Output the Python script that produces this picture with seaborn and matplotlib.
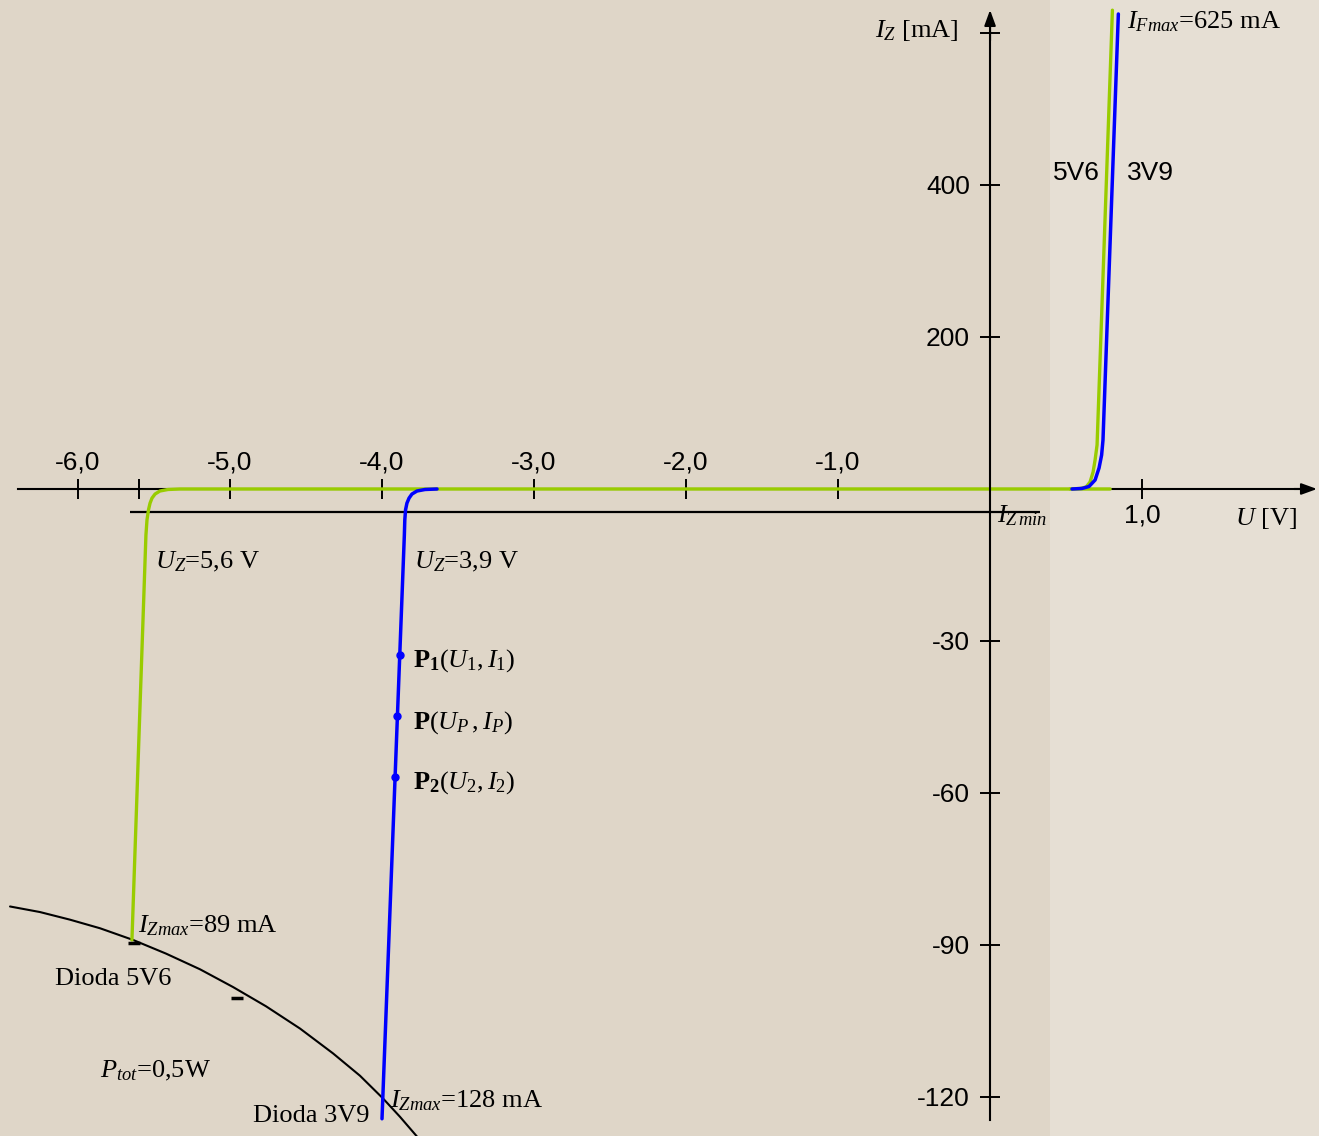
import numpy as np
import matplotlib
matplotlib.use("Agg")
import matplotlib.pyplot as plt
import seaborn as sns
from matplotlib.ticker import FixedLocator, FixedFormatter

# ---- characteristic of the 5V6 Zener diode (green) ----
Z56_REV_U = [-5.645, -5.553, -5.546, -5.536, -5.526, -5.513, -5.493, -5.461, -5.408, -5.329, 0.79]
Z56_REV_I = [-89.0, -9.1, -6.1, -4.1, -2.8, -1.8, -1.0, -0.4, -0.1, 0.0, 0.0]
Z56_FWD_U = [0.526, 0.592, 0.632, 0.658, 0.678, 0.691, 0.704, 0.805]
Z56_FWD_I = [0.0, 0.7, 2.6, 9.2, 22.4, 38.2, 57.9, 630.0]

# ---- characteristic of the 3V9 Zener diode (blue) ----
Z39_REV_U = [-4.0, -3.853, -3.850, -3.845, -3.836, -3.822, -3.803, -3.770, -3.717, -3.638]
Z39_REV_I = [-124.3, -9.1, -6.1, -4.1, -2.8, -1.8, -1.0, -0.4, -0.1, 0.0]
Z39_FWD_U = [0.539, 0.605, 0.651, 0.691, 0.717, 0.734, 0.743, 0.844]
Z39_FWD_I = [0.0, 0.7, 3.3, 11.8, 27.6, 44.7, 64.5, 625.0]

# ---- maximum power dissipation curve P_tot = 0.5 W ----
PTOT_U = [-6.447, -6.250, -6.053, -5.855, -5.638, -5.421, -5.197, -4.980,
          -4.763, -4.539, -4.322, -4.145, -3.993, -3.882, -3.770]
PTOT_I = [-82.4, -83.5, -85.0, -86.7, -89.0, -91.7, -94.8, -98.3,
          -102.1, -106.5, -111.4, -115.8, -120.3, -123.9, -127.8]

# working points on the 3V9 characteristic
P_LABELS = [r"$\mathbf{P}_\mathbf{1}(U_1,I_1)$", r"$\mathbf{P}(U_P\,,I_P)$", r"$\mathbf{P}_\mathbf{2}(U_2,I_2)$"]
P_I = [-32.8, -44.9, -56.8]

I_ZMIN = -4.5
DASH_U = [-5.632, -4.954]
DASH_I = [-89.7, -100.5]

XTICKS = [-6.0, -5.6, -5.0, -4.0, -3.0, -2.0, -1.0, 1.0]
XTICK_LABELS = ["-6,0", "", "-5,0", "-4,0", "-3,0", "-2,0", "-1,0", "1,0"]
YTICKS = [-120, -90, -60, -30, 200, 400, 600]
YTICK_LABELS = ["-120", "-90", "-60", "-30", "200", "400", ""]

GREEN = "#99cc00"
BLUE = "#0000ff"
BG = "#dfd6c8"
BG_RIGHT = "#e6dfd4"
SERIF = "Liberation Serif"
SANS = "Liberation Sans"

sns.set_style("white")
plt.rcParams["font.family"] = [SANS, "DejaVu Sans"]
plt.rcParams["text.color"] = "black"
plt.rcParams["mathtext.fontset"] = "custom"
plt.rcParams["mathtext.rm"] = SERIF
plt.rcParams["mathtext.it"] = SERIF + ":italic"
plt.rcParams["mathtext.bf"] = SERIF + ":bold"

fig = plt.figure(figsize=(13.19, 11.36), dpi=100, facecolor=BG)
ax = fig.add_axes([0, 0, 1, 1])
ax.set_facecolor(BG)
ax.axvspan(0.395, 2.3, color=BG_RIGHT, lw=0, zorder=0)

# curves
line_kw = dict(sort=False, estimator=None, ax=ax, legend=False)
sns.lineplot(x=PTOT_U, y=PTOT_I, color="black", lw=1.5, zorder=3, **line_kw)
sns.lineplot(x=Z56_REV_U, y=Z56_REV_I, color=GREEN, lw=2.4, zorder=4, **line_kw)
sns.lineplot(x=Z56_FWD_U, y=Z56_FWD_I, color=GREEN, lw=2.4, zorder=4, **line_kw)
sns.lineplot(x=Z39_REV_U, y=Z39_REV_I, color=BLUE, lw=2.5, zorder=5, **line_kw)
sns.lineplot(x=Z39_FWD_U, y=Z39_FWD_I, color=BLUE, lw=2.5, zorder=5, **line_kw)
for ln in ax.get_lines():
    ln.set_solid_joinstyle("round")

# working points lie on the 3V9 reverse branch
P_U = np.interp(P_I, Z39_REV_I, Z39_REV_U)
ax.plot(P_U, P_I, "o", color=BLUE, ms=5, zorder=6)
ax.plot(DASH_U, DASH_I, "_", color="black", ms=8, mew=2.5, zorder=6)

# minimum Zener current line
ax.hlines(I_ZMIN, -5.658, 0.329, color="black", lw=1.6, zorder=2)

# piecewise linear current axis: negative currents are stretched
k = 200.0 / 30.0
fwd = lambda y: np.where(np.asarray(y) >= 0, y, np.asarray(y) * k)
inv = lambda t: np.where(np.asarray(t) >= 0, t, np.asarray(t) / k)
ax.set_yscale("function", functions=(fwd, inv))
ax.set_xlim(-6.513, 2.164)
ax.set_ylim(-127.7, 643.4)
ax.set_xlabel("")
ax.set_ylabel("")

# axes crossing at the origin
for side in ("left", "bottom", "top"):
    ax.spines[side].set_position(("data", 0))
ax.spines["top"].set_visible(False)
ax.spines["right"].set_visible(False)
ax.spines["bottom"].set_bounds(-6.395, 2.10)
ax.spines["left"].set_bounds(-124.5, 610)
for side in ("left", "bottom"):
    ax.spines[side].set_color("black")
    ax.spines[side].set_linewidth(1.5)
    ax.spines[side].set_zorder(3.5)
ax.spines["left"].set_zorder(6)

ax.xaxis.set_major_locator(FixedLocator(XTICKS))
ax.xaxis.set_major_formatter(FixedFormatter(XTICK_LABELS))
ax.yaxis.set_major_locator(FixedLocator(YTICKS))
ax.yaxis.set_major_formatter(FixedFormatter(YTICK_LABELS))
ax.xaxis.set_minor_locator(FixedLocator([]))
ax.yaxis.set_minor_locator(FixedLocator([]))
ax.tick_params(axis="x", direction="inout", length=15, width=1.4, color="black",
               bottom=True, top=False, labelbottom=True, labeltop=True,
               pad=3, labelsize=19, labelcolor="black")
ax.tick_params(axis="y", direction="inout", length=15, width=1.4, color="black",
               left=True, right=False, pad=7, labelsize=19, labelcolor="black")
for tick, val in zip(ax.xaxis.get_major_ticks(), XTICKS):
    tick.label1.set_visible(val > 0)
    tick.label2.set_visible(val < 0)

# arrow heads of both axes
arrow = dict(arrowstyle="-|>,head_length=0.55,head_width=0.2", color="black",
             lw=1.5, mutation_scale=17, shrinkA=0, shrinkB=0)
ax.annotate("", xy=(2.151, 0), xytext=(2.0, 0), arrowprops=arrow, annotation_clip=False, zorder=6)
ax.annotate("", xy=(0, 630.3), xytext=(0, 590), arrowprops=arrow, annotation_clip=False, zorder=6)

# labels
st = dict(family=SERIF, size=19, va="baseline", color="black", zorder=7)
ax.text(-0.757, 594.7, r"$I_Z$ [mA]", **st)
ax.text(1.612, -7.1, r"$U$ [V]", **st)
ax.text(0.901, 606.6, r"$I_{Fmax}$=625 mA", **st)
ax.text(0.414, 406.6, "5V6", family=SANS, size=19, va="baseline", color="black")
ax.text(0.901, 406.6, "3V9", family=SANS, size=19, va="baseline", color="black")
ax.text(-5.493, -15.6, r"$U_Z$=5,6 V", **st)
ax.text(-3.789, -15.6, r"$U_Z$=3,9 V", **st)
for lab, pi in zip(P_LABELS, P_I):
    ax.text(-3.796, pi - 2.3, lab, **st)
ax.text(-5.605, -87.6, r"$I_{Zmax}$=89 mA", **st)
ax.text(-6.151, -97.9, "Dioda 5V6", **st)
ax.text(-5.855, -116.05, r"$P_{tot}$=0,5W", **st)
ax.text(-4.849, -124.9, "Dioda 3V9", **st)
ax.text(-3.947, -122.0, r"$I_{Zmax}$=128 mA", **st)
ax.text(0.046, -6.5, r"$I_{Z\,min}$", **st)

fig.savefig("out.png", dpi=100, facecolor=BG)
